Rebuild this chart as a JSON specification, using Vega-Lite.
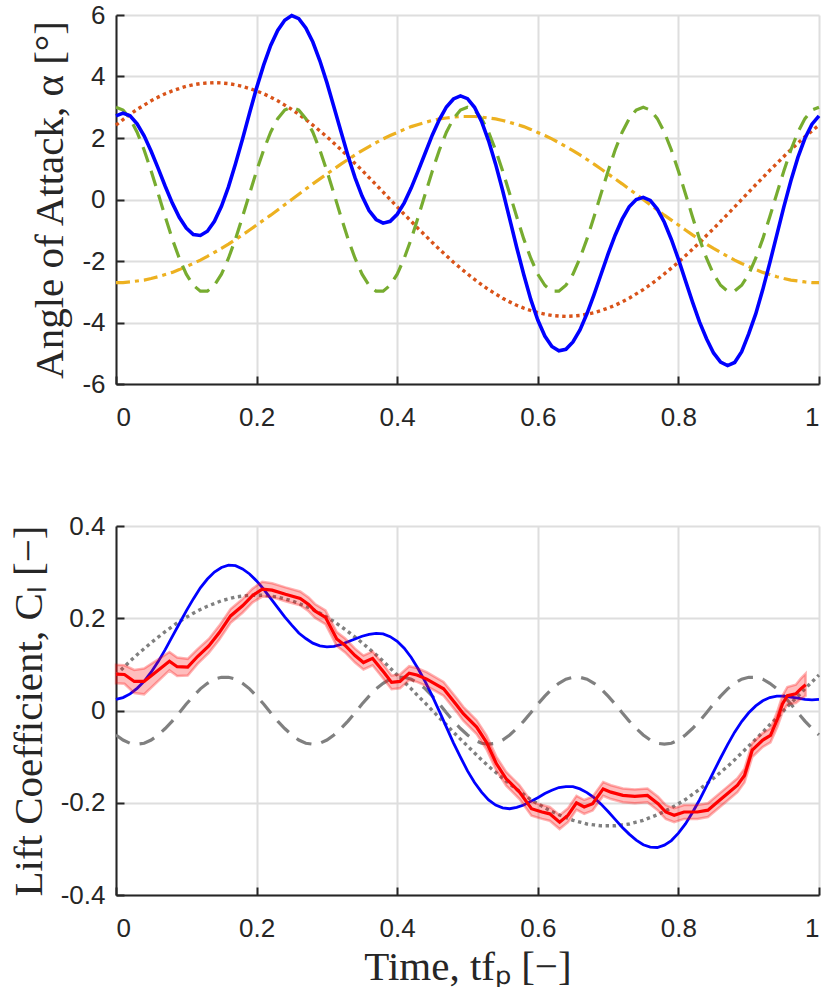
{
  "$schema": "https://vega.github.io/schema/vega-lite/v6.json",
  "padding": {"left": 8, "top": 2, "right": 2, "bottom": 0},
  "background": "white",
  "spacing": 83,
  "config": {
    "view": {"stroke": null},
    "axis": {
      "domainColor": "#262626", "domainWidth": 2,
      "tickColor": "#262626", "tickWidth": 2, "tickSize": -8,
      "gridColor": "#dedede", "gridWidth": 2,
      "labelFont": "Liberation Sans", "labelFontSize": 26, "labelColor": "#262626",
      "titleFont": "Liberation Serif", "titleFontSize": 41, "titleFontWeight": "normal", "titleColor": "#262626",
      "format": "~g",
      "labelExpr": "replace(datum.label, '\u2212', '-')"
    },
    "axisX": {"labelPadding": 28, "titlePadding": 6},
    "axisY": {"labelPadding": 19, "titlePadding": 10}
  },
  "datasets": {
    "alpha": [
      {"t":0,"b":2.72,"g":3.00,"o":2.42,"y":-2.70},
      {"t":0.01,"b":2.81,"g":2.91,"o":2.60,"y":-2.70},
      {"t":0.02,"b":2.72,"g":2.63,"o":2.77,"y":-2.68},
      {"t":0.03,"b":2.46,"g":2.19,"o":2.93,"y":-2.65},
      {"t":0.04,"b":2.07,"g":1.61,"o":3.07,"y":-2.62},
      {"t":0.05,"b":1.57,"g":0.93,"o":3.21,"y":-2.57},
      {"t":0.06,"b":1.01,"g":0.19,"o":3.33,"y":-2.51},
      {"t":0.07,"b":0.43,"g":-0.56,"o":3.44,"y":-2.44},
      {"t":0.08,"b":-0.11,"g":-1.28,"o":3.53,"y":-2.37},
      {"t":0.09,"b":-0.58,"g":-1.91,"o":3.61,"y":-2.28},
      {"t":0.10,"b":-0.93,"g":-2.43,"o":3.68,"y":-2.18},
      {"t":0.11,"b":-1.14,"g":-2.79,"o":3.73,"y":-2.08},
      {"t":0.12,"b":-1.17,"g":-2.98,"o":3.77,"y":-1.97},
      {"t":0.13,"b":-1.03,"g":-2.98,"o":3.79,"y":-1.85},
      {"t":0.14,"b":-0.71,"g":-2.79,"o":3.80,"y":-1.72},
      {"t":0.15,"b":-0.22,"g":-2.43,"o":3.79,"y":-1.59},
      {"t":0.16,"b":0.41,"g":-1.91,"o":3.77,"y":-1.45},
      {"t":0.17,"b":1.16,"g":-1.28,"o":3.73,"y":-1.30},
      {"t":0.18,"b":1.97,"g":-0.56,"o":3.68,"y":-1.15},
      {"t":0.19,"b":2.81,"g":0.19,"o":3.61,"y":-0.99},
      {"t":0.20,"b":3.63,"g":0.93,"o":3.53,"y":-0.83},
      {"t":0.21,"b":4.37,"g":1.61,"o":3.44,"y":-0.67},
      {"t":0.22,"b":5.01,"g":2.19,"o":3.33,"y":-0.51},
      {"t":0.23,"b":5.50,"g":2.63,"o":3.21,"y":-0.34},
      {"t":0.24,"b":5.83,"g":2.91,"o":3.07,"y":-0.17},
      {"t":0.25,"b":5.98,"g":3.00,"o":2.93,"y":0},
      {"t":0.26,"b":5.88,"g":2.91,"o":2.77,"y":0.17},
      {"t":0.27,"b":5.58,"g":2.63,"o":2.60,"y":0.34},
      {"t":0.28,"b":5.12,"g":2.19,"o":2.42,"y":0.51},
      {"t":0.29,"b":4.51,"g":1.61,"o":2.23,"y":0.67},
      {"t":0.30,"b":3.80,"g":0.93,"o":2.04,"y":0.83},
      {"t":0.31,"b":3.01,"g":0.19,"o":1.83,"y":0.99},
      {"t":0.32,"b":2.21,"g":-0.56,"o":1.62,"y":1.15},
      {"t":0.33,"b":1.42,"g":-1.28,"o":1.40,"y":1.30},
      {"t":0.34,"b":0.71,"g":-1.91,"o":1.17,"y":1.45},
      {"t":0.35,"b":0.11,"g":-2.43,"o":0.95,"y":1.59},
      {"t":0.36,"b":-0.36,"g":-2.79,"o":0.71,"y":1.72},
      {"t":0.37,"b":-0.65,"g":-2.98,"o":0.48,"y":1.85},
      {"t":0.38,"b":-0.77,"g":-2.98,"o":0.24,"y":1.97},
      {"t":0.39,"b":-0.71,"g":-2.79,"o":0,"y":2.08},
      {"t":0.40,"b":-0.48,"g":-2.43,"o":-0.24,"y":2.18},
      {"t":0.41,"b":-0.11,"g":-1.91,"o":-0.48,"y":2.28},
      {"t":0.42,"b":0.38,"g":-1.28,"o":-0.71,"y":2.37},
      {"t":0.43,"b":0.94,"g":-0.56,"o":-0.95,"y":2.44},
      {"t":0.44,"b":1.52,"g":0.19,"o":-1.17,"y":2.51},
      {"t":0.45,"b":2.10,"g":0.93,"o":-1.40,"y":2.57},
      {"t":0.46,"b":2.60,"g":1.61,"o":-1.62,"y":2.62},
      {"t":0.47,"b":3.01,"g":2.19,"o":-1.83,"y":2.65},
      {"t":0.48,"b":3.27,"g":2.63,"o":-2.04,"y":2.68},
      {"t":0.49,"b":3.37,"g":2.91,"o":-2.23,"y":2.70},
      {"t":0.50,"b":3.28,"g":3.00,"o":-2.42,"y":2.70},
      {"t":0.51,"b":3.00,"g":2.91,"o":-2.60,"y":2.70},
      {"t":0.52,"b":2.54,"g":2.63,"o":-2.77,"y":2.68},
      {"t":0.53,"b":1.91,"g":2.19,"o":-2.93,"y":2.65},
      {"t":0.54,"b":1.15,"g":1.61,"o":-3.07,"y":2.62},
      {"t":0.55,"b":0.29,"g":0.93,"o":-3.21,"y":2.57},
      {"t":0.56,"b":-0.63,"g":0.19,"o":-3.33,"y":2.51},
      {"t":0.57,"b":-1.56,"g":-0.56,"o":-3.44,"y":2.44},
      {"t":0.58,"b":-2.44,"g":-1.28,"o":-3.53,"y":2.37},
      {"t":0.59,"b":-3.25,"g":-1.91,"o":-3.61,"y":2.28},
      {"t":0.60,"b":-3.92,"g":-2.43,"o":-3.68,"y":2.18},
      {"t":0.61,"b":-4.44,"g":-2.79,"o":-3.73,"y":2.08},
      {"t":0.62,"b":-4.78,"g":-2.98,"o":-3.77,"y":1.97},
      {"t":0.63,"b":-4.92,"g":-2.98,"o":-3.79,"y":1.85},
      {"t":0.64,"b":-4.87,"g":-2.79,"o":-3.80,"y":1.72},
      {"t":0.65,"b":-4.63,"g":-2.43,"o":-3.79,"y":1.59},
      {"t":0.66,"b":-4.24,"g":-1.91,"o":-3.77,"y":1.45},
      {"t":0.67,"b":-3.71,"g":-1.28,"o":-3.73,"y":1.30},
      {"t":0.68,"b":-3.09,"g":-0.56,"o":-3.68,"y":1.15},
      {"t":0.69,"b":-2.43,"g":0.19,"o":-3.61,"y":0.99},
      {"t":0.70,"b":-1.77,"g":0.93,"o":-3.53,"y":0.83},
      {"t":0.71,"b":-1.16,"g":1.61,"o":-3.44,"y":0.67},
      {"t":0.72,"b":-0.64,"g":2.19,"o":-3.33,"y":0.51},
      {"t":0.73,"b":-0.24,"g":2.63,"o":-3.21,"y":0.34},
      {"t":0.74,"b":0.00,"g":2.91,"o":-3.07,"y":0.17},
      {"t":0.75,"b":0.07,"g":3.00,"o":-2.93,"y":0},
      {"t":0.76,"b":-0.03,"g":2.91,"o":-2.77,"y":-0.17},
      {"t":0.77,"b":-0.31,"g":2.63,"o":-2.60,"y":-0.34},
      {"t":0.78,"b":-0.74,"g":2.19,"o":-2.42,"y":-0.51},
      {"t":0.79,"b":-1.30,"g":1.61,"o":-2.23,"y":-0.67},
      {"t":0.80,"b":-1.94,"g":0.93,"o":-2.04,"y":-0.83},
      {"t":0.81,"b":-2.64,"g":0.19,"o":-1.83,"y":-0.99},
      {"t":0.82,"b":-3.33,"g":-0.56,"o":-1.62,"y":-1.15},
      {"t":0.83,"b":-3.98,"g":-1.28,"o":-1.40,"y":-1.30},
      {"t":0.84,"b":-4.53,"g":-1.91,"o":-1.17,"y":-1.45},
      {"t":0.85,"b":-4.99,"g":-2.43,"o":-0.95,"y":-1.59},
      {"t":0.86,"b":-5.29,"g":-2.79,"o":-0.71,"y":-1.72},
      {"t":0.87,"b":-5.40,"g":-2.98,"o":-0.48,"y":-1.85},
      {"t":0.88,"b":-5.30,"g":-2.98,"o":-0.24,"y":-1.97},
      {"t":0.89,"b":-4.95,"g":-2.79,"o":0,"y":-2.08},
      {"t":0.90,"b":-4.37,"g":-2.43,"o":0.24,"y":-2.18},
      {"t":0.91,"b":-3.72,"g":-1.91,"o":0.48,"y":-2.28},
      {"t":0.92,"b":-2.93,"g":-1.28,"o":0.71,"y":-2.37},
      {"t":0.93,"b":-2.06,"g":-0.56,"o":0.95,"y":-2.44},
      {"t":0.94,"b":-1.15,"g":0.19,"o":1.17,"y":-2.51},
      {"t":0.95,"b":-0.24,"g":0.93,"o":1.40,"y":-2.57},
      {"t":0.96,"b":0.61,"g":1.61,"o":1.62,"y":-2.62},
      {"t":0.97,"b":1.37,"g":2.19,"o":1.83,"y":-2.65},
      {"t":0.98,"b":1.99,"g":2.63,"o":2.04,"y":-2.68},
      {"t":0.99,"b":2.45,"g":2.91,"o":2.23,"y":-2.70},
      {"t":1,"b":2.72,"g":3.00,"o":2.42,"y":-2.70}
    ],
    "cl": [
      {"t":0,"b":0.024,"p":0.077,"d":-0.053},
      {"t":0.01,"b":0.028,"p":0.092,"d":-0.064},
      {"t":0.02,"b":0.036,"p":0.107,"d":-0.071},
      {"t":0.03,"b":0.048,"p":0.121,"d":-0.073},
      {"t":0.04,"b":0.063,"p":0.134,"d":-0.071},
      {"t":0.05,"b":0.083,"p":0.147,"d":-0.064},
      {"t":0.06,"b":0.106,"p":0.159,"d":-0.053},
      {"t":0.07,"b":0.132,"p":0.171,"d":-0.039},
      {"t":0.08,"b":0.160,"p":0.182,"d":-0.023},
      {"t":0.09,"b":0.188,"p":0.193,"d":-0.005},
      {"t":0.10,"b":0.216,"p":0.202,"d":0.014},
      {"t":0.11,"b":0.242,"p":0.211,"d":0.031},
      {"t":0.12,"b":0.266,"p":0.219,"d":0.047},
      {"t":0.13,"b":0.285,"p":0.226,"d":0.059},
      {"t":0.14,"b":0.300,"p":0.232,"d":0.068},
      {"t":0.15,"b":0.310,"p":0.238,"d":0.072},
      {"t":0.16,"b":0.315,"p":0.242,"d":0.072},
      {"t":0.17,"b":0.314,"p":0.246,"d":0.068},
      {"t":0.18,"b":0.307,"p":0.248,"d":0.059},
      {"t":0.19,"b":0.296,"p":0.250,"d":0.047},
      {"t":0.20,"b":0.281,"p":0.250,"d":0.031},
      {"t":0.21,"b":0.263,"p":0.250,"d":0.014},
      {"t":0.22,"b":0.243,"p":0.248,"d":-0.005},
      {"t":0.23,"b":0.223,"p":0.246,"d":-0.023},
      {"t":0.24,"b":0.203,"p":0.242,"d":-0.039},
      {"t":0.25,"b":0.185,"p":0.238,"d":-0.053},
      {"t":0.26,"b":0.168,"p":0.232,"d":-0.064},
      {"t":0.27,"b":0.156,"p":0.226,"d":-0.071},
      {"t":0.28,"b":0.146,"p":0.219,"d":-0.073},
      {"t":0.29,"b":0.140,"p":0.211,"d":-0.071},
      {"t":0.30,"b":0.138,"p":0.202,"d":-0.064},
      {"t":0.31,"b":0.139,"p":0.193,"d":-0.053},
      {"t":0.32,"b":0.143,"p":0.182,"d":-0.039},
      {"t":0.33,"b":0.149,"p":0.171,"d":-0.023},
      {"t":0.34,"b":0.155,"p":0.159,"d":-0.005},
      {"t":0.35,"b":0.161,"p":0.147,"d":0.014},
      {"t":0.36,"b":0.165,"p":0.134,"d":0.031},
      {"t":0.37,"b":0.167,"p":0.121,"d":0.047},
      {"t":0.38,"b":0.166,"p":0.107,"d":0.059},
      {"t":0.39,"b":0.160,"p":0.092,"d":0.068},
      {"t":0.40,"b":0.150,"p":0.077,"d":0.072},
      {"t":0.41,"b":0.135,"p":0.062,"d":0.072},
      {"t":0.42,"b":0.115,"p":0.047,"d":0.068},
      {"t":0.43,"b":0.090,"p":0.031,"d":0.059},
      {"t":0.44,"b":0.062,"p":0.016,"d":0.047},
      {"t":0.45,"b":0.031,"p":0,"d":0.031},
      {"t":0.46,"b":-0.002,"p":-0.016,"d":0.014},
      {"t":0.47,"b":-0.036,"p":-0.031,"d":-0.005},
      {"t":0.48,"b":-0.070,"p":-0.047,"d":-0.023},
      {"t":0.49,"b":-0.101,"p":-0.062,"d":-0.039},
      {"t":0.50,"b":-0.131,"p":-0.077,"d":-0.053},
      {"t":0.51,"b":-0.156,"p":-0.092,"d":-0.064},
      {"t":0.52,"b":-0.177,"p":-0.107,"d":-0.071},
      {"t":0.53,"b":-0.194,"p":-0.121,"d":-0.073},
      {"t":0.54,"b":-0.205,"p":-0.134,"d":-0.071},
      {"t":0.55,"b":-0.211,"p":-0.147,"d":-0.064},
      {"t":0.56,"b":-0.213,"p":-0.159,"d":-0.053},
      {"t":0.57,"b":-0.210,"p":-0.171,"d":-0.039},
      {"t":0.58,"b":-0.205,"p":-0.182,"d":-0.023},
      {"t":0.59,"b":-0.197,"p":-0.193,"d":-0.005},
      {"t":0.60,"b":-0.189,"p":-0.202,"d":0.014},
      {"t":0.61,"b":-0.180,"p":-0.211,"d":0.031},
      {"t":0.62,"b":-0.173,"p":-0.219,"d":0.047},
      {"t":0.63,"b":-0.167,"p":-0.226,"d":0.059},
      {"t":0.64,"b":-0.165,"p":-0.232,"d":0.068},
      {"t":0.65,"b":-0.165,"p":-0.238,"d":0.072},
      {"t":0.66,"b":-0.170,"p":-0.242,"d":0.072},
      {"t":0.67,"b":-0.178,"p":-0.246,"d":0.068},
      {"t":0.68,"b":-0.189,"p":-0.248,"d":0.059},
      {"t":0.69,"b":-0.203,"p":-0.250,"d":0.047},
      {"t":0.70,"b":-0.219,"p":-0.250,"d":0.031},
      {"t":0.71,"b":-0.236,"p":-0.250,"d":0.014},
      {"t":0.72,"b":-0.253,"p":-0.248,"d":-0.005},
      {"t":0.73,"b":-0.268,"p":-0.246,"d":-0.023},
      {"t":0.74,"b":-0.281,"p":-0.242,"d":-0.039},
      {"t":0.75,"b":-0.291,"p":-0.238,"d":-0.053},
      {"t":0.76,"b":-0.296,"p":-0.232,"d":-0.064},
      {"t":0.77,"b":-0.297,"p":-0.226,"d":-0.071},
      {"t":0.78,"b":-0.292,"p":-0.219,"d":-0.073},
      {"t":0.79,"b":-0.282,"p":-0.211,"d":-0.071},
      {"t":0.80,"b":-0.266,"p":-0.202,"d":-0.064},
      {"t":0.81,"b":-0.246,"p":-0.193,"d":-0.053},
      {"t":0.82,"b":-0.221,"p":-0.182,"d":-0.039},
      {"t":0.83,"b":-0.194,"p":-0.171,"d":-0.023},
      {"t":0.84,"b":-0.164,"p":-0.159,"d":-0.005},
      {"t":0.85,"b":-0.133,"p":-0.147,"d":0.014},
      {"t":0.86,"b":-0.103,"p":-0.134,"d":0.031},
      {"t":0.87,"b":-0.074,"p":-0.121,"d":0.047},
      {"t":0.88,"b":-0.047,"p":-0.107,"d":0.059},
      {"t":0.89,"b":-0.024,"p":-0.092,"d":0.068},
      {"t":0.90,"b":-0.005,"p":-0.077,"d":0.072},
      {"t":0.91,"b":0.010,"p":-0.062,"d":0.072},
      {"t":0.92,"b":0.021,"p":-0.047,"d":0.068},
      {"t":0.93,"b":0.028,"p":-0.031,"d":0.059},
      {"t":0.94,"b":0.031,"p":-0.016,"d":0.047},
      {"t":0.95,"b":0.031,"p":0,"d":0.031},
      {"t":0.96,"b":0.029,"p":0.016,"d":0.014},
      {"t":0.97,"b":0.027,"p":0.031,"d":-0.005},
      {"t":0.98,"b":0.024,"p":0.047,"d":-0.023},
      {"t":0.99,"b":0.023,"p":0.062,"d":-0.039},
      {"t":1,"b":0.024,"p":0.077,"d":-0.053}
    ],
    "exp": [
      {"t":0,"c":0.079,"lo":0.059,"hi":0.099},
      {"t":0.012,"c":0.078,"lo":0.058,"hi":0.098},
      {"t":0.026,"c":0.063,"lo":0.038,"hi":0.088},
      {"t":0.040,"c":0.063,"lo":0.035,"hi":0.091},
      {"t":0.076,"c":0.107,"lo":0.087,"hi":0.127},
      {"t":0.087,"c":0.095,"lo":0.075,"hi":0.115},
      {"t":0.102,"c":0.094,"lo":0.076,"hi":0.112},
      {"t":0.116,"c":0.117,"lo":0.101,"hi":0.133},
      {"t":0.132,"c":0.140,"lo":0.125,"hi":0.155},
      {"t":0.147,"c":0.169,"lo":0.154,"hi":0.184},
      {"t":0.163,"c":0.205,"lo":0.190,"hi":0.220},
      {"t":0.180,"c":0.227,"lo":0.212,"hi":0.242},
      {"t":0.194,"c":0.249,"lo":0.234,"hi":0.264},
      {"t":0.208,"c":0.263,"lo":0.247,"hi":0.279},
      {"t":0.222,"c":0.261,"lo":0.246,"hi":0.276},
      {"t":0.241,"c":0.252,"lo":0.237,"hi":0.267},
      {"t":0.262,"c":0.243,"lo":0.228,"hi":0.258},
      {"t":0.274,"c":0.230,"lo":0.215,"hi":0.245},
      {"t":0.283,"c":0.216,"lo":0.201,"hi":0.231},
      {"t":0.298,"c":0.202,"lo":0.187,"hi":0.217},
      {"t":0.314,"c":0.155,"lo":0.140,"hi":0.170},
      {"t":0.326,"c":0.141,"lo":0.126,"hi":0.156},
      {"t":0.340,"c":0.119,"lo":0.104,"hi":0.134},
      {"t":0.352,"c":0.104,"lo":0.089,"hi":0.119},
      {"t":0.365,"c":0.113,"lo":0.098,"hi":0.128},
      {"t":0.381,"c":0.083,"lo":0.068,"hi":0.098},
      {"t":0.392,"c":0.061,"lo":0.046,"hi":0.076},
      {"t":0.404,"c":0.063,"lo":0.048,"hi":0.078},
      {"t":0.417,"c":0.081,"lo":0.066,"hi":0.096},
      {"t":0.428,"c":0.077,"lo":0.062,"hi":0.092},
      {"t":0.442,"c":0.068,"lo":0.053,"hi":0.083},
      {"t":0.466,"c":0.047,"lo":0.032,"hi":0.062},
      {"t":0.485,"c":0.011,"lo":-0.004,"hi":0.026},
      {"t":0.494,"c":-0.007,"lo":-0.022,"hi":0.008},
      {"t":0.513,"c":-0.036,"lo":-0.051,"hi":-0.021},
      {"t":0.527,"c":-0.069,"lo":-0.084,"hi":-0.054},
      {"t":0.541,"c":-0.115,"lo":-0.130,"hi":-0.100},
      {"t":0.555,"c":-0.148,"lo":-0.163,"hi":-0.133},
      {"t":0.574,"c":-0.177,"lo":-0.192,"hi":-0.162},
      {"t":0.591,"c":-0.213,"lo":-0.228,"hi":-0.198},
      {"t":0.606,"c":-0.220,"lo":-0.235,"hi":-0.205},
      {"t":0.617,"c":-0.224,"lo":-0.239,"hi":-0.209},
      {"t":0.631,"c":-0.242,"lo":-0.257,"hi":-0.227},
      {"t":0.643,"c":-0.227,"lo":-0.242,"hi":-0.212},
      {"t":0.655,"c":-0.200,"lo":-0.215,"hi":-0.185},
      {"t":0.666,"c":-0.209,"lo":-0.224,"hi":-0.194},
      {"t":0.678,"c":-0.202,"lo":-0.217,"hi":-0.187},
      {"t":0.693,"c":-0.170,"lo":-0.185,"hi":-0.155},
      {"t":0.704,"c":-0.177,"lo":-0.192,"hi":-0.162},
      {"t":0.721,"c":-0.184,"lo":-0.199,"hi":-0.169},
      {"t":0.738,"c":-0.186,"lo":-0.201,"hi":-0.171},
      {"t":0.756,"c":-0.184,"lo":-0.199,"hi":-0.169},
      {"t":0.771,"c":-0.202,"lo":-0.217,"hi":-0.187},
      {"t":0.782,"c":-0.220,"lo":-0.235,"hi":-0.205},
      {"t":0.794,"c":-0.227,"lo":-0.242,"hi":-0.212},
      {"t":0.808,"c":-0.220,"lo":-0.235,"hi":-0.205},
      {"t":0.827,"c":-0.220,"lo":-0.235,"hi":-0.205},
      {"t":0.842,"c":-0.216,"lo":-0.231,"hi":-0.201},
      {"t":0.856,"c":-0.198,"lo":-0.213,"hi":-0.183},
      {"t":0.870,"c":-0.180,"lo":-0.195,"hi":-0.165},
      {"t":0.884,"c":-0.162,"lo":-0.177,"hi":-0.147},
      {"t":0.894,"c":-0.141,"lo":-0.156,"hi":-0.126},
      {"t":0.905,"c":-0.086,"lo":-0.101,"hi":-0.071},
      {"t":0.920,"c":-0.064,"lo":-0.079,"hi":-0.049},
      {"t":0.931,"c":-0.054,"lo":-0.069,"hi":-0.039},
      {"t":0.941,"c":-0.018,"lo":-0.035,"hi":-0.001},
      {"t":0.948,"c":0.014,"lo":-0.004,"hi":0.032},
      {"t":0.955,"c":0.032,"lo":0.013,"hi":0.051},
      {"t":0.967,"c":0.036,"lo":0.016,"hi":0.056},
      {"t":0.974,"c":0.047,"lo":0.025,"hi":0.069},
      {"t":0.981,"c":0.056,"lo":0.032,"hi":0.080}
    ]
  },
  "vconcat": [
    {
      "width": 703,
      "height": 369,
      "data": {"name": "alpha"},
      "encoding": {
        "x": {"field": "t", "type": "quantitative", "title": null,
              "scale": {"domain": [0, 1], "nice": false},
              "axis": {"values": [0, 0.2, 0.4, 0.6, 0.8, 1]}}
      },
      "layer": [
        {"mark": {"type": "line", "color": "#EDB120", "strokeWidth": 3.2, "strokeDash": [14, 5, 4, 5]},
         "encoding": {"y": {"field": "y", "type": "quantitative", "title": "Angle of Attack, α [°]",
                            "scale": {"domain": [-6, 6], "nice": false},
                            "axis": {"values": [-6, -4, -2, 0, 2, 4, 6]}}}},
        {"mark": {"type": "line", "color": "#D95319", "strokeWidth": 3.4, "strokeDash": [3.4, 3.6]},
         "encoding": {"y": {"field": "o", "type": "quantitative", "title": "Angle of Attack, α [°]"}}},
        {"mark": {"type": "line", "color": "#77AC30", "strokeWidth": 3.2, "strokeDash": [16, 9]},
         "encoding": {"y": {"field": "g", "type": "quantitative", "title": "Angle of Attack, α [°]"}}},
        {"mark": {"type": "line", "color": "#0000FF", "strokeWidth": 3.6},
         "encoding": {"y": {"field": "b", "type": "quantitative", "title": "Angle of Attack, α [°]"}}}
      ]
    },
    {
      "width": 703,
      "height": 369,
      "encoding": {
        "x": {"field": "t", "type": "quantitative", "title": "Time, tfₚ [−]",
              "scale": {"domain": [0, 1], "nice": false},
              "axis": {"values": [0, 0.2, 0.4, 0.6, 0.8, 1]}}
      },
      "layer": [
        {"data": {"name": "cl"},
         "mark": {"type": "line", "color": "#808080", "strokeWidth": 3.4, "strokeDash": [3.4, 3.6]},
         "encoding": {"y": {"field": "p", "type": "quantitative", "title": "Lift Coefficient, Cₗ [−]",
                            "scale": {"domain": [-0.4, 0.4], "nice": false},
                            "axis": {"values": [-0.4, -0.2, 0, 0.2, 0.4]}}}},
        {"data": {"name": "cl"},
         "mark": {"type": "line", "color": "#808080", "strokeWidth": 3.2, "strokeDash": [16, 10]},
         "encoding": {"y": {"field": "d", "type": "quantitative", "title": "Lift Coefficient, Cₗ [−]"}}},
        {"data": {"name": "cl"},
         "mark": {"type": "line", "color": "#0000FF", "strokeWidth": 2.8},
         "encoding": {"y": {"field": "b", "type": "quantitative", "title": "Lift Coefficient, Cₗ [−]"}}},
        {"data": {"name": "exp"},
         "mark": {"type": "area", "color": "#FF0000", "fillOpacity": 0.26, "stroke": "#FF0000", "strokeOpacity": 0.3, "strokeWidth": 2.5},
         "encoding": {"y": {"field": "lo", "type": "quantitative", "title": "Lift Coefficient, Cₗ [−]"},
                      "y2": {"field": "hi"}}},
        {"data": {"name": "exp"},
         "mark": {"type": "line", "color": "#FF0000", "strokeWidth": 3.2},
         "encoding": {"y": {"field": "c", "type": "quantitative", "title": "Lift Coefficient, Cₗ [−]"}}}
      ]
    }
  ]
}
